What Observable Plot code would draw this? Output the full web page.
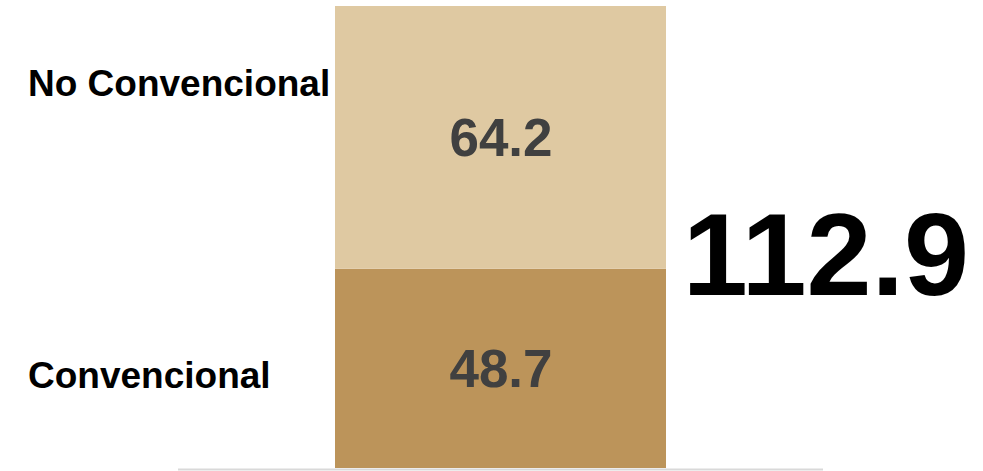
<!DOCTYPE html>
<html>
<head>
<meta charset="utf-8">
<script src="https://cdn.jsdelivr.net/npm/d3@7"></script>
<script src="https://cdn.jsdelivr.net/npm/@observablehq/plot@0.6"></script>
<style>
  html, body { margin: 0; padding: 0; background: #fff; }
  svg { display: block; }
</style>
</head>
<body>
<div id="chart"></div>
<script>
const barra = "Total";
const categorias = ["Convencional", "No Convencional"];
const valores = [48.7, 64.2];
const total = 112.9;
const colores = ["#BC945A", "#DFC9A2"];

const datos = categorias.map((c, i) => ({ barra, tipo: c, valor: valores[i] }));
// vertical midpoint of each stacked segment (in data units)
const acumulado = d3.cumsum(valores);
const medio = datos.map((d, i) => acumulado[i] - valores[i] / 2);

const fontFamily = "'Liberation Sans', Arial, Helvetica, sans-serif";

const chart = Plot.plot({
  width: 983,
  height: 471,
  marginLeft: 178,
  marginRight: 160,
  marginTop: 6,
  marginBottom: 3,
  style: { fontFamily, background: "#fff" },
  x: { domain: [barra], padding: 0, axis: null },
  y: { domain: [0, total], axis: null },
  color: { domain: categorias, range: colores },
  marks: [
    Plot.barY(datos, { x: "barra", y: "valor", fill: "tipo", insetLeft: 157, insetRight: 157 }),
    Plot.ruleY([0], { stroke: "#d9d9d9", strokeWidth: 2, dy: 1 }),
    Plot.text(datos, Plot.stackY({
      x: "barra", y: "valor",
      text: d => d.valor.toFixed(1),
      fill: "#404040", fontSize: 53, fontWeight: "bold", dy: 1
    })),
    Plot.text([1], {
      x: () => barra, y: () => medio[1], text: () => categorias[1],
      textAnchor: "start", dx: -473, dy: -54,
      fill: "#000", fontSize: 37, fontWeight: "bold"
    }),
    Plot.text([0], {
      x: () => barra, y: () => medio[0], text: () => categorias[0],
      textAnchor: "start", dx: -473, dy: 7,
      fill: "#000", fontSize: 37, fontWeight: "bold"
    }),
    Plot.text([total], {
      x: () => barra, y: d => d / 2,
      text: d => d.toFixed(1),
      dx: 325, dy: 20,
      fill: "#000", fontSize: 117, fontWeight: "bold"
    })
  ]
});
document.getElementById("chart").appendChild(chart);
</script>
</body>
</html>
